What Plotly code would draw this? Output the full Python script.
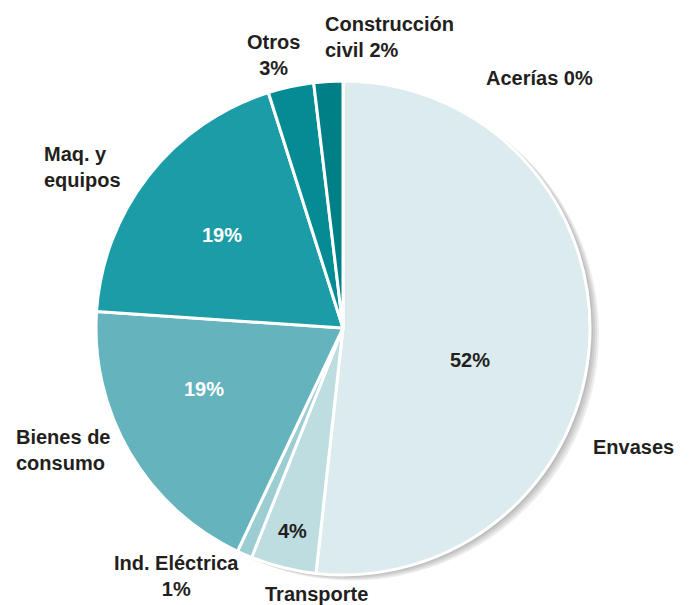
import plotly.graph_objects as go

# data
sectors = ["Acerías", "Envases", "Transporte", "Ind. Eléctrica",
           "Bienes de consumo", "Maq. y equipos", "Otros", "Construcción civil"]
shares = [0.0, 51.9, 4.3, 1.0, 19.1, 19.1, 3.0, 1.9]
outer_labels = ["Acerías 0%", "Envases", "Transporte", "Ind. Eléctrica<br>1%",
                "Bienes de<br>consumo", "Maq. y<br>equipos", "Otros<br>3%",
                "Construcción<br>civil 2%"]
inner_labels = ["", "52%", "4%", "", "19%", "19%", "", ""]

colors = ["#dcebee", "#dcebee", "#bedde1", "#9ccdd3", "#65b3bc",
          "#1b9ca6", "#048b94", "#017f87"]
inner_colors = ["#231f20", "#231f20", "#231f20", "#231f20", "#ffffff",
                "#ffffff", "#ffffff", "#ffffff"]

W, H = 689, 605
cx, cy, r = 343, 328, 247

# label placement (pixels, top-left origin)
outer_pos = [(539, 78, "center"), (633, 447, "center"), (316, 594, "center"),
             (176, 576, "center"), (14, 450, "left"), (42, 167, "left"),
             (273, 55, "center"), (323, 37, "left")]
inner_pos = [None, (470, 360), (292, 531), None, (204, 389), (222, 235), None, None]

fig = go.Figure()


def dom(dx, dy):
    return dict(x=[(cx - r + dx) / W, (cx + r + dx) / W],
                y=[(H - cy - r - dy) / H, (H - cy + r - dy) / H])


# soft shadow on the right
for off in [9, 7, 5, 3]:
    fig.add_trace(go.Pie(values=[1], domain=dom(off, off * 0.6), sort=False,
                         marker=dict(colors=["rgba(0,0,0,0.07)"], line=dict(width=0)),
                         textinfo="none", hoverinfo="skip", showlegend=False))

fig.add_trace(go.Pie(
    labels=sectors, values=shares, sort=False, direction="clockwise", rotation=0,
    domain=dom(0, 0),
    marker=dict(colors=colors, line=dict(color="white", width=3)),
    textinfo="none", showlegend=False,
))

font = dict(family="Liberation Sans, Arial, sans-serif", size=20, color="#231f20",
            weight="bold")
annotations = []
for txt, (x, y, al) in zip(outer_labels, outer_pos):
    xanchor = "left" if al == "left" else "center"
    annotations.append(dict(text=txt, x=x / W, y=1 - y / H, xref="paper", yref="paper",
                            xanchor=xanchor, yanchor="middle", align=al,
                            showarrow=False, font=font))
for txt, pos, col in zip(inner_labels, inner_pos, inner_colors):
    if pos is None:
        continue
    annotations.append(dict(text=txt, x=pos[0] / W, y=1 - pos[1] / H, xref="paper",
                            yref="paper", xanchor="center", yanchor="middle",
                            showarrow=False, font=dict(font, color=col)))

fig.update_layout(width=W, height=H, margin=dict(l=0, r=0, t=0, b=0),
                  paper_bgcolor="white", plot_bgcolor="white",
                  annotations=annotations)

fig.write_html("out.html", config={"displayModeBar": False},
               post_script="document.body.style.margin='0';")
